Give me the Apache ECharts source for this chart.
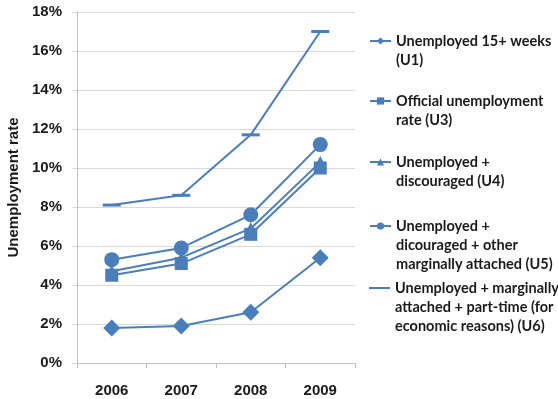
<!DOCTYPE html>
<html>
<head>
<meta charset="utf-8">
<script src="https://cdn.jsdelivr.net/npm/echarts@6/dist/echarts.min.js"></script>
<style>html,body{margin:0;padding:0;background:#fff}#c{width:558px;height:399px}</style>
</head>
<body>
<div id="c"></div>
<script>
const categories = ['2006', '2007', '2008', '2009'];
const u1 = [1.8, 1.9, 2.6, 5.4];
const u3 = [4.5, 5.1, 6.6, 10.0];
const u4 = [4.7, 5.4, 6.9, 10.3];
const u5 = [5.3, 5.9, 7.6, 11.2];
const u6 = [8.1, 8.6, 11.7, 17.0];
const yMin = 0, yMax = 18, yStep = 2;
const seriesNames = ['U1', 'U3', 'U4', 'U5', 'U6'];
const legendLabels = {
  U1: ['Unemployed 15+ weeks', '(U1)'],
  U3: ['Official unemployment', 'rate (U3)'],
  U4: ['Unemployed +', 'discouraged (U4)'],
  U5: ['Unemployed +', 'dicouraged + other', 'marginally attached (U5)'],
  U6: ['Unemployed + marginally', 'attached + part-time (for', 'economic reasons) (U6)']
};

const color = '#4a7ebb';
const LH = 19;
const legendFont = 'Lato';
const firstLineY = {U1: 41, U3: 101, U4: 162, U5: 226, U6: 288};

function fmt(name) {
  const lines = legendLabels[name];
  const pad = new Array(lines.length - 1).fill('');
  return pad.concat(lines).join('\n');
}

const legends = seriesNames.map(n => {
  const nl = legendLabels[n].length;
  const blockH = (2 * nl - 1) * LH;
  const isU6 = n === 'U6';
  return {
    data: isU6 ? [{name: n, icon: 'rect'}] : [n],
    orient: 'vertical',
    left: 369,
    top: firstLineY[n] - blockH / 2,
    padding: 0,
    itemWidth: 21,
    itemHeight: isU6 ? 2 : 9,
    itemGap: 0,
    selectedMode: false,
    formatter: fmt,
    textStyle: {fontFamily: legendFont, fontWeight: 'bold', fontSize: 14.5, color: '#1a1a1a', lineHeight: LH}
  };
});

function mk(name, data, symbol, size) {
  return {
    name: name, type: 'line', data: data, symbol: symbol, symbolSize: size,
    itemStyle: {color: color}, lineStyle: {color: color, width: 2},
    emphasis: {disabled: true}, animation: false
  };
}

const chart = echarts.init(document.getElementById('c'));
chart.setOption({
  animation: false,
  grid: {left: 77, right: 203, top: 12, bottom: 36, containLabel: false},
  legend: legends,
  xAxis: {
    type: 'category', data: categories, boundaryGap: true,
    axisLine: {lineStyle: {color: '#bfbfbf', width: 1}},
    axisTick: {show: true, length: 5, lineStyle: {color: '#bfbfbf'}},
    axisLabel: {margin: 20, fontFamily: 'Liberation Sans', fontWeight: 'bold', fontSize: 15, color: '#1a1a1a'}
  },
  yAxis: {
    type: 'value', min: yMin, max: yMax, interval: yStep,
    name: 'Unemployment rate', nameLocation: 'middle', nameGap: 56,
    nameTextStyle: {fontFamily: 'Liberation Sans', fontWeight: 'bold', fontSize: 15, color: '#1a1a1a'},
    axisLine: {show: true, lineStyle: {color: '#bfbfbf', width: 1}},
    axisTick: {show: true, length: 5, lineStyle: {color: '#d9d9d9'}},
    splitLine: {lineStyle: {color: '#d9d9d9', width: 1}},
    axisLabel: {formatter: '{value}%', margin: 15, fontFamily: 'Liberation Sans', fontWeight: 'bold', fontSize: 15, color: '#1a1a1a'}
  },
  series: [
    mk('U1', u1, 'diamond', 17),
    mk('U3', u3, 'rect', 13),
    mk('U4', u4, 'triangle', 13),
    mk('U5', u5, 'circle', 15),
    mk('U6', u6, 'rect', [18, 3])
  ]
});
</script>
</body>
</html>
